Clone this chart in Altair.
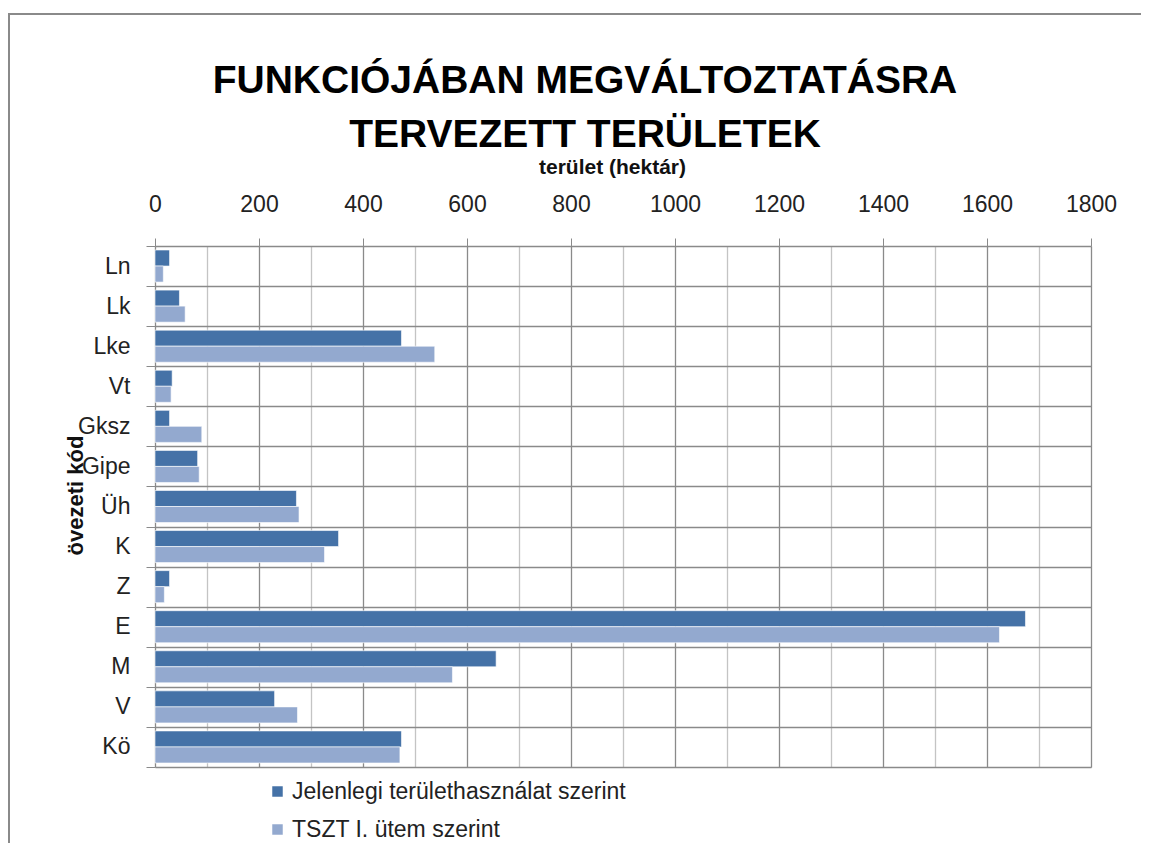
import altair as alt
import pandas as pd

categories = ["Ln", "Lk", "Lke", "Vt", "Gksz", "Gipe", "Üh", "K", "Z", "E", "M", "V", "Kö"]
jelenlegi = [28, 47, 474, 33, 28, 82, 272, 353, 28, 1674, 656, 230, 474]
tszt = [16, 58, 538, 31, 90, 85, 277, 326, 18, 1624, 572, 274, 471]
series = ["Jelenlegi területhasználat szerint", "TSZT I. ütem szerint"]
colors = ["#4572A7", "#93A9CF"]
x_ticks = list(range(0, 1801, 100))

rows = []
for c, a, b in zip(categories, jelenlegi, tszt):
    rows.append({"kod": c, "sorozat": series[0], "ertek": a})
    rows.append({"kod": c, "sorozat": series[1], "ertek": b})
df = pd.DataFrame(rows)

FONT = "Liberation Sans"
GRID_DARK = "#8a8a8a"
GRID_LIGHT = "#c4c4c4"

bars = alt.Chart(df).mark_bar(stroke="white", strokeWidth=1, strokeOpacity=0.6).encode(
    x=alt.X(
        "ertek:Q",
        scale=alt.Scale(domain=[0, 1800], nice=False),
        axis=alt.Axis(
            orient="top",
            values=x_ticks,
            labelExpr="datum.value % 200 === 0 ? datum.label : ''",
            format="d",
            title="terület (hektár)",
            titleFont=FONT,
            titleFontSize=21,
            titleFontWeight="bold",
            titleColor="#111",
            titleX=457,
            titleY=-79,
            titleAlign="center",
            titleBaseline="middle",
            labelFont=FONT,
            labelFontSize=23,
            labelColor="#222",
            labelPadding=22,
            labelFlush=False,
            grid=True,
            gridColor=alt.condition("datum.value % 200 === 0", alt.value(GRID_DARK), alt.value(GRID_LIGHT)),
            gridWidth=1.3,
            ticks=True,
            tickSize=8,
            tickColor=GRID_DARK,
            tickOpacity=alt.condition("datum.value % 200 === 0", alt.value(1), alt.value(0)),
            domain=False,
        ),
    ),
    y=alt.Y(
        "kod:N",
        sort=categories,
        scale=alt.Scale(paddingInner=0, paddingOuter=0),
        axis=alt.Axis(
            title="övezeti kód",
            titleFont=FONT,
            titleFontSize=22,
            titleFontWeight="bold",
            titleColor="#111",
            titleAngle=-90,
            titleX=-80,
            titleY=249,
            titleAlign="center",
            titleBaseline="middle",
            labelFont=FONT,
            labelFontSize=23,
            labelColor="#222",
            labelPadding=16,
            tickBand="extent",
            grid=True,
            gridColor=GRID_DARK,
            gridWidth=1.3,
            ticks=True,
            tickSize=9,
            tickColor=GRID_DARK,
            domain=False,
        ),
    ),
    yOffset=alt.YOffset("sorozat:N", sort=series, scale=alt.Scale(paddingOuter=0.25, paddingInner=0)),
    color=alt.Color(
        "sorozat:N",
        sort=series,
        scale=alt.Scale(domain=series, range=colors),
        legend=alt.Legend(
            title=None,
            orient="none",
            legendX=111,
            legendY=534,
            symbolType="square",
            symbolSize=110,
            symbolStrokeWidth=0,
            labelFont=FONT,
            labelFontSize=23,
            labelColor="#222",
            labelOffset=3,
            labelLimit=0,
            rowPadding=14,
            padding=0,
        ),
    ),
)

border = alt.Chart(pd.DataFrame({"a": [0]})).mark_rule(color="#8a8a8a", strokeWidth=2).encode(
    x=alt.value(-147), x2=alt.value(990), y=alt.value(-232)
)
border_left = alt.Chart(pd.DataFrame({"a": [0]})).mark_rule(color="#8a8a8a", strokeWidth=2).encode(
    x=alt.value(-146), y=alt.value(-232), y2=alt.value(600)
)

chart = alt.layer(border, border_left, bars).properties(
    width=936,
    height=521,
    autosize=alt.AutoSizeParams(type="none"),
    padding={"left": 147, "top": 238, "right": 50, "bottom": 76},
    title=alt.TitleParams(
        text=["FUNKCIÓJÁBAN MEGVÁLTOZTATÁSRA", "TERVEZETT  TERÜLETEK"],
        font=FONT,
        fontSize=39,
        fontWeight="bold",
        color="#000",
        lineHeight=54,
        anchor="middle",
        dx=-38,
        dy=142,
        offset=0,
    ),
).configure_view(stroke=GRID_DARK, strokeWidth=1.3).configure(background="white")

chart.save("out.html", embed_options={"renderer": "svg", "actions": False})
